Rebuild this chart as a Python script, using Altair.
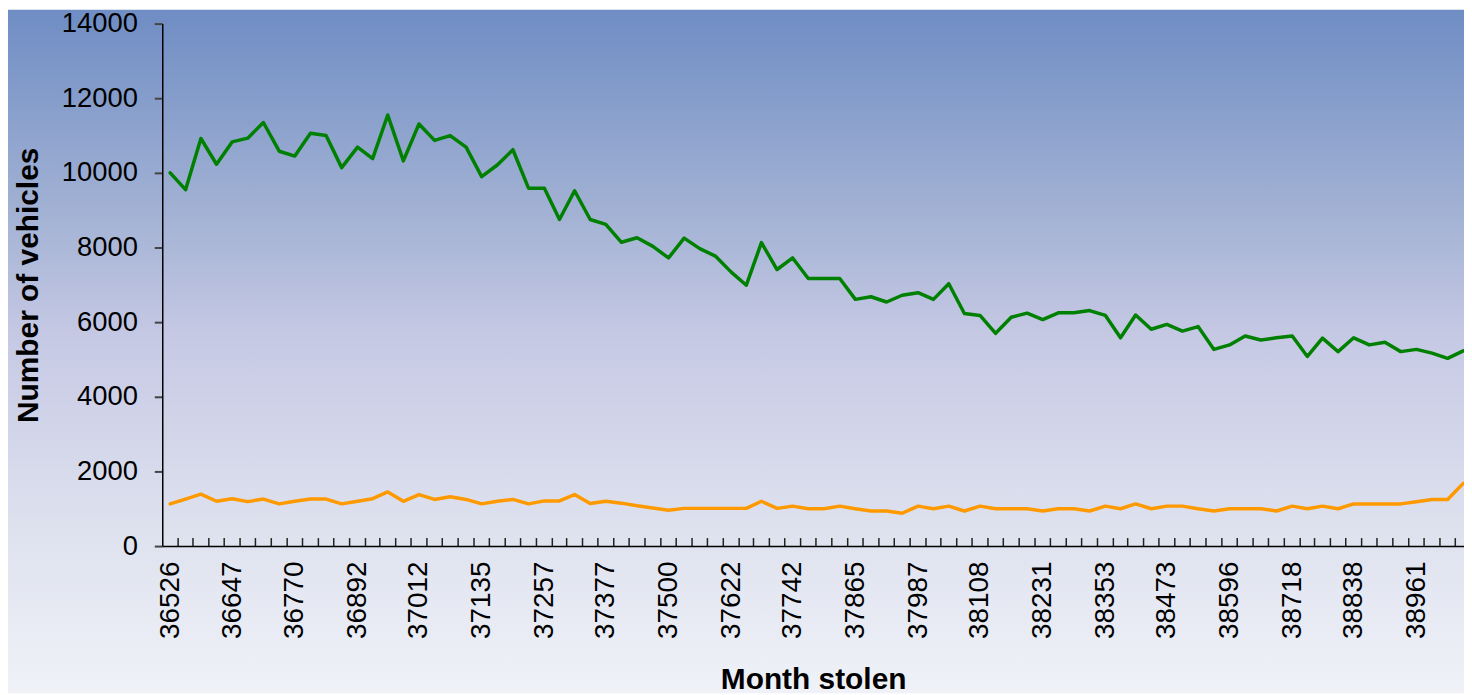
import altair as alt
import pandas as pd

# ---- data ----
green_values = [
    10000, 9550, 10920, 10230, 10830, 10930, 11350, 10580, 10450, 11060,
    11000, 10140, 10690, 10380, 11550, 10320, 11310, 10870, 11000, 10690,
    9900, 10210, 10620, 9590, 9590, 8750, 9520, 8750, 8620, 8140,
    8260, 8030, 7720, 8250, 7970, 7770, 7340, 6990, 8130, 7410,
    7720, 7170, 7170, 7170, 6610, 6680, 6540, 6720, 6790, 6610,
    7030, 6230, 6180, 5700, 6130, 6240, 6070, 6250, 6250, 6310,
    6180, 5580, 6190, 5810, 5940, 5760, 5880, 5270, 5390, 5630,
    5520, 5580, 5630, 5080, 5570, 5210, 5580, 5390, 5460, 5210,
    5270, 5170, 5030, 5230,
]
orange_values = [
    1130, 1260, 1390, 1200, 1270, 1190, 1260, 1130, 1200, 1260,
    1260, 1130, 1200, 1270, 1450, 1200, 1380, 1250, 1320, 1250,
    1130, 1200, 1250, 1130, 1210, 1210, 1380, 1140, 1200, 1150,
    1080, 1020, 960, 1010, 1010, 1010, 1010, 1010, 1200, 1010,
    1070, 1000, 1000, 1070, 1000, 940, 940, 880, 1070, 1000,
    1070, 940, 1070, 1000, 1000, 1000, 940, 1000, 1000, 940,
    1070, 1000, 1130, 1000, 1070, 1070, 1000, 940, 1000, 1000,
    1000, 940, 1070, 1000, 1070, 1000, 1130, 1130, 1130, 1130,
    1190, 1250, 1250, 1680,
]
label_serials = [36526, 36647, 36770, 36892, 37012, 37135, 37257, 37377, 37500,
                 37622, 37742, 37865, 37987, 38108, 38231, 38353, 38473, 38596,
                 38718, 38838, 38961]
y_ticks = [0, 2000, 4000, 6000, 8000, 10000, 12000, 14000]
series_names = ["Series 1", "Series 2"]
series_colors = ["#008000", "#FF9900"]

# ---- month serials (Excel date numbers) ----
EPOCH = pd.Timestamp("1899-12-30")
months = pd.date_range("2000-01-01", periods=len(green_values), freq="MS")
start = [(m - EPOCH).days for m in months]
nxt = [(m + pd.offsets.MonthBegin(1) - EPOCH).days for m in months]
mid = [(a + b) / 2 for a, b in zip(start, nxt)]
mid_by_start = dict(zip(start, mid))
label_pos = [mid_by_start[s] for s in label_serials]

df = pd.DataFrame({
    "pos": mid * 2,
    "month": start * 2,
    "value": green_values + orange_values,
    "series": [series_names[0]] * len(green_values) + [series_names[1]] * len(orange_values),
})
ticks_df = pd.DataFrame({"boundary": start[1:]})

W, H = 1308, 525
FONT = "Liberation Sans"

xscale = alt.Scale(domain=[36526, 39069], nice=False, zero=False)
yscale = alt.Scale(domain=[0, 14000], nice=False)

bg = alt.Chart(alt.Data(values=[{"a": 1}])).mark_rect(
    clip=False,
    fill=alt.LinearGradient(
        gradient="linear", x1=0, x2=0, y1=0, y2=1,
        stops=[
            alt.GradientStop(color="#6F8DC4", offset=0),
            alt.GradientStop(color="#A3B2D4", offset=0.3),
            alt.GradientStop(color="#C6C9E4", offset=0.48),
            alt.GradientStop(color="#DDE1EE", offset=0.75),
            alt.GradientStop(color="#F0F2F8", offset=1),
        ],
    ),
).encode(
    x=alt.value(-160), x2=alt.value(W + 20),
    y=alt.value(-14), y2=alt.value(H + 148),
)

tick_marks = alt.Chart(ticks_df).mark_rule(color="#222222", strokeWidth=1.5).encode(
    x=alt.X("boundary:Q", scale=xscale),
    y=alt.value(H - 8), y2=alt.value(H),
)

lines = alt.Chart(df).mark_line(strokeWidth=3.5, strokeJoin="round", strokeCap="round").encode(
    x=alt.X(
        "pos:Q", scale=xscale,
        axis=alt.Axis(
            values=label_pos, ticks=False, grid=False, zindex=1,
            labelExpr="format(floor(datum.value - 14.9), 'd')",
            labelAngle=270, labelAlign="right", labelBaseline="middle",
            labelPadding=15, labelFontSize=28, labelFont=FONT, labelColor="black",
            labelOverlap=False, labelFlush=False,
            domainColor="black", domainWidth=1.5,
            title="Month stolen", titleFont=FONT, titleFontSize=30,
            titleFontWeight="bold", titleColor="black", titlePadding=26,
        ),
    ),
    y=alt.Y(
        "value:Q", scale=yscale,
        axis=alt.Axis(
            values=y_ticks, format="d", grid=False, tickSize=8, tickColor="#444444",
            tickWidth=2, zindex=1,
            labelPadding=17, labelFontSize=27.5, labelFont=FONT, labelColor="black",
            domainColor="black", domainWidth=1.5,
            title="Number of vehicles", titleFont=FONT, titleFontSize=30,
            titleFontWeight="bold", titleColor="black", titlePadding=18,
        ),
    ),
    color=alt.Color("series:N", scale=alt.Scale(domain=series_names, range=series_colors), legend=None),
)

chart = alt.layer(bg, tick_marks, lines).properties(
    width=W, height=H,
    autosize=alt.AutoSizeParams(type="none"),
    padding={"left": 155, "top": 14, "right": 0, "bottom": 148},
).configure_view(stroke=None)

chart.save("out.html", embed_options={"renderer": "svg", "actions": False})
